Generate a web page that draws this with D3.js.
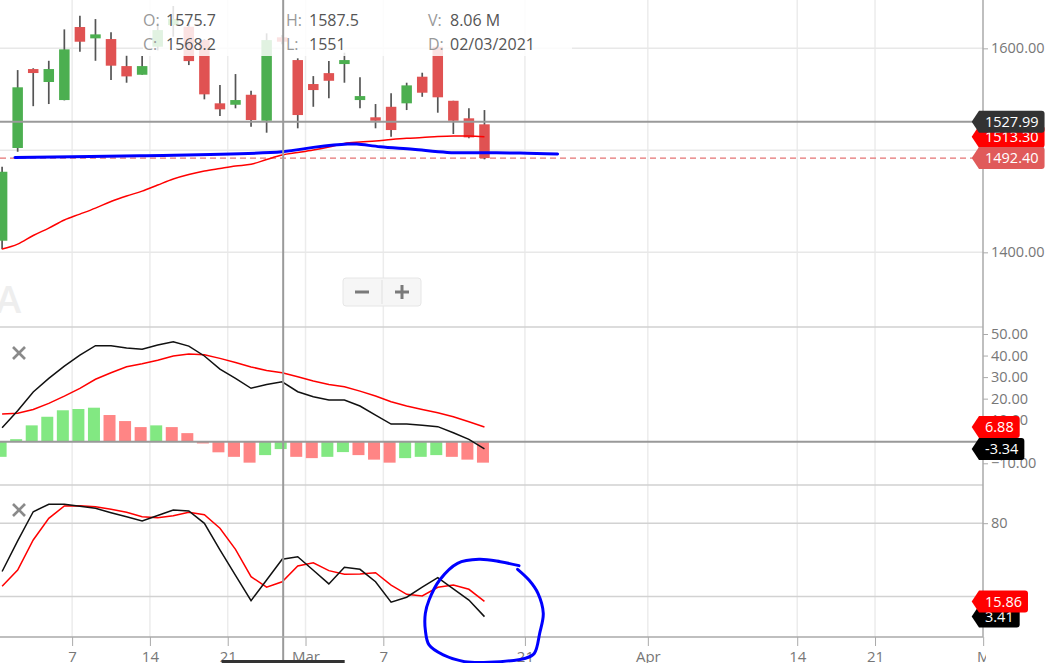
<!DOCTYPE html>
<html><head><meta charset="utf-8">
<script src="https://cdn.jsdelivr.net/npm/d3@7"></script>
<style>
body{margin:0;background:#fff;overflow:hidden}
svg{display:block;font-family:"Open Sans",sans-serif}
</style>
</head><body>
<svg id="c" width="1051" height="663"></svg>
<script>
// ---------- data ----------
const days = ["2021-02-01","2021-02-02","2021-02-03","2021-02-04","2021-02-05","2021-02-08","2021-02-09","2021-02-10","2021-02-11","2021-02-12",
  "2021-02-15","2021-02-16","2021-02-17","2021-02-18","2021-02-19","2021-02-22","2021-02-23","2021-02-24","2021-02-25","2021-02-26",
  "2021-03-01","2021-03-02","2021-03-03","2021-03-04","2021-03-05","2021-03-08","2021-03-09","2021-03-10","2021-03-12","2021-03-15",
  "2021-03-16","2021-03-17"];
const open  = [1411.4,1502.3,1579.7,1567.0,1549.3,1620.9,1609.8,1609.1,1582.6,1574.1,1601.6,1622.8,1621.2,1608.1,1546.1,1544.7,1554.5,1529.0,1610.8,1588.5,1565.0,1575.7,1584.6,1549.3,1532.4,1542.7,1546.1,1572.2,1601.6,1548.6,1531.4,1525.5];
const high  = [1484.0,1578.7,1580.5,1587.8,1618.6,1632.0,1628.7,1615.7,1592.7,1592.5,1625.0,1641.5,1624.0,1609.0,1564.0,1574.8,1558.4,1614.7,1613.0,1590.2,1572.8,1587.5,1595.7,1571.6,1545.4,1555.9,1566.3,1576.1,1603.0,1548.6,1541.2,1539.5];
const low   = [1403.0,1498.6,1543.3,1545.4,1549.0,1596.7,1587.8,1568.9,1566.3,1574.0,1598.0,1611.4,1583.6,1550.0,1533.6,1541.2,1523.1,1517.3,1604.0,1521.6,1542.7,1551.0,1566.3,1541.2,1521.6,1513.3,1539.5,1552.5,1536.9,1516.0,1511.8,1491.2];
const close = [1479.0,1561.8,1575.8,1579.7,1599.0,1606.5,1613.7,1583.0,1572.5,1582.6,1617.9,1628.7,1587.5,1554.9,1540.2,1549.3,1529.7,1608.1,1606.5,1534.6,1559.1,1568.2,1588.5,1553.2,1529.0,1519.9,1563.7,1556.5,1552.0,1529.0,1512.7,1492.4];
const sma   = [1403.2,1408.0,1416.5,1423.8,1431.7,1437.5,1443.4,1449.8,1455.2,1460.0,1466.0,1471.9,1476.3,1479.7,1482.2,1484.6,1486.3,1491.0,1495.4,1497.8,1500.3,1503.2,1506.7,1508.1,1509.1,1510.6,1511.8,1512.5,1513.5,1514.0,1514.0,1513.3];
// hand-drawn blue trend line: [candle index, price]
const trendPts = [[0.83,1493.1],[8.86,1494.7],[18,1498.6],[20,1502.9],[22.2,1506.2],[22.8,1506.2],[24.3,1503.5],[26.4,1501.0],[28.6,1498.0],[30.7,1497.6],[33.3,1497.4],[35.7,1496.4]];

const macdLine   = [6.5,14.4,23.1,29.4,35.1,40.2,44.6,44.6,43.5,42.9,44.9,46.4,44.4,39.8,33.7,29.4,24.8,26.6,27.8,23.2,20.9,19.4,19.4,16.6,12.4,8.2,8.2,7.7,7.0,4.2,1.1,-3.34];
const macdSignal = [12.9,13.2,15.0,17.8,21.2,24.8,29.0,32.0,34.8,36.2,37.8,39.8,40.7,40.4,38.7,36.8,34.7,33.1,32.0,30.2,28.2,26.6,25.5,23.5,21.2,18.6,16.6,15.0,13.5,11.6,9.3,6.88];
const macdHist   = [-7.0,1.2,7.6,11.6,14.6,15.2,15.8,12.4,9.6,6.8,7.6,6.8,4.0,-0.8,-4.9,-7.0,-9.7,-6.2,-3.4,-7.0,-7.6,-7.0,-4.8,-6.2,-8.3,-9.7,-7.6,-7.0,-6.2,-7.0,-8.3,-9.7];

const stochK = [40.4,65.5,89.4,95.5,95.5,93.9,92.2,88.6,85.2,81.8,86.3,90.8,90.0,79.9,58.1,37.3,16.5,33.4,50.4,52.5,41.4,30.2,43.9,42.2,32.0,15.2,19.3,27.5,35.3,26.1,17.0,3.41];
const stochD = [28.3,41.6,66.2,84.0,94.1,94.3,93.5,91.4,88.9,85.3,84.5,86.1,88.9,87.0,75.8,58.6,36.1,27.5,32.0,44.9,47.6,41.1,38.1,38.4,39.4,29.3,21.7,20.3,27.5,29.3,25.8,15.86];
// hand-drawn blue circle: [candle index, stoch value]
const circlePts = [[33.22,45.2],[32.02,48.4],[30.65,50.4],[29.27,47.1],[28.12,33.4],[27.44,17],[27.2,6.1],[27.2,-7.5],[27.44,-19.8],[28.35,-28],[29.73,-33.5],[32.02,-33.5],[33.64,-30.7],[34.21,-26.6],[34.55,-10.2],[34.78,6.1],[34.44,22.5],[33.86,33.4],[33.13,42.2]];

const xTickPos    = [4.5,9.5,14.5,19.5,24.5,33.6,41.5,51.1,56.1,63.05];
const xTickLabels = ["7","14","21","Mar","7","21","Apr","14","21","M"];
const priceTicks = [1400,1500,1600];
const macdTicks  = [-10,0,10,20,30,40,50];
const stochTicks = [20,80];

const infoLabels = ["O:","C:","H:","L:","V:","D:"];
const infoValues = ["1575.7","1568.2","1587.5","1551","8.06 M","02/03/2021"];
const crossIndex = 18, crossPrice = 1527.99;
const smaLast = 1513.30;

// ---------- layout ----------
const AX = 983;
const svg = d3.select('#c');
const x = d3.scaleLinear().domain([0, 63]).range([2.1, 2.1 + 63 * 15.56]);
const yP = d3.scaleLinear().domain([1326.8, 1647.4]).range([327, 0]);
const yM = d3.scaleLinear().domain([-20.07, 53.25]).range([485, 327]);
const yS = d3.scaleLinear().domain([-13.3, 111.3]).range([637, 485]);

const GREEN = '#4caf50', RED = '#e05252';

const defs = svg.append('defs');
[['clipMain',0,327],['clipMacd',327,158],['clipStoch',485,152]].forEach(([id,y0,h]) =>
  defs.append('clipPath').attr('id', id).append('rect').attr('x',0).attr('y',y0).attr('width',AX).attr('height',h));
defs.append('clipPath').attr('id','clipX').append('rect').attr('x',0).attr('y',630).attr('width',AX+3).attr('height',40);

// grid
const grid = svg.append('g');
grid.selectAll('line.v').data(xTickPos.slice(0,-1)).join('line')
  .attr('x1',d=>x(d)).attr('x2',d=>x(d)).attr('y1',0).attr('y2',637)
  .attr('stroke','#ececec').attr('stroke-width',1.5);
grid.selectAll('line.hp').data(priceTicks).join('line')
  .attr('x1',0).attr('x2',AX).attr('y1',d=>yP(d)).attr('y2',d=>yP(d))
  .attr('stroke','#e8e8e8').attr('stroke-width',1.5);
grid.selectAll('line.hs').data(stochTicks).join('line')
  .attr('x1',0).attr('x2',AX).attr('y1',d=>yS(d)).attr('y2',d=>yS(d))
  .attr('stroke','#d2d2d2').attr('stroke-width',1.5);
[327,485].forEach(yy => grid.append('line').attr('x1',0).attr('x2',AX).attr('y1',yy).attr('y2',yy)
  .attr('stroke','#d0d0d0').attr('stroke-width',1.5));

// watermark
svg.append('text').attr('x',-4).attr('y',313).attr('font-size',38).attr('font-weight',600)
  .attr('fill','#eeeeee').text('A');

// main panel
const main = svg.append('g').attr('clip-path','url(#clipMain)');
const lastClose = close[close.length-1];
main.append('line').attr('x1',0).attr('x2',AX).attr('y1',yP(lastClose)).attr('y2',yP(lastClose))
  .attr('stroke','#e57373').attr('stroke-width',1.2).attr('stroke-dasharray','6,4');
const idx = d3.range(open.length);
main.selectAll('line.wick').data(idx).join('line')
  .attr('x1',i=>x(i)).attr('x2',i=>x(i)).attr('y1',i=>yP(high[i])).attr('y2',i=>yP(low[i]))
  .attr('stroke','#555').attr('stroke-width',1.7);
main.selectAll('rect.body').data(idx).join('rect')
  .attr('x',i=>x(i)-5.25).attr('width',10.5)
  .attr('y',i=>yP(Math.max(open[i],close[i])))
  .attr('height',i=>Math.max(1.5, Math.abs(yP(open[i])-yP(close[i]))))
  .attr('fill',i=>close[i]>=open[i]?GREEN:RED);
main.append('path').datum(sma)
  .attr('d', d3.line().x((d,i)=>x(i)).y(d=>yP(d)).curve(d3.curveMonotoneX))
  .attr('fill','none').attr('stroke','#ff0000').attr('stroke-width',1.5);
main.append('path').datum(trendPts)
  .attr('d', d3.line().x(d=>x(d[0])).y(d=>yP(d[1])).curve(d3.curveCatmullRom))
  .attr('fill','none').attr('stroke','#0000ff').attr('stroke-width',3).attr('stroke-linecap','round');

// info overlay
svg.append('rect').attr('x',143).attr('y',0).attr('width',429).attr('height',56)
  .attr('fill','#fff').attr('opacity',0.83);
const infoX = [143,143,286,286,428,428], infoY = [25.5,50,25.5,50,25.5,50];
infoLabels.forEach((l,k) => {
  svg.append('text').attr('x',infoX[k]).attr('y',infoY[k]).attr('font-size',16).attr('fill','#999').text(l);
  svg.append('text').attr('x',infoX[k]+ (k<4?23:22)).attr('y',infoY[k]).attr('font-size',16).attr('fill','#555').text(infoValues[k]);
});

// zoom buttons
const zb = svg.append('g');
zb.append('rect').attr('x',343).attr('y',278).attr('width',78).attr('height',28).attr('rx',3)
  .attr('fill','#f6f6f6').attr('stroke','#e6e6e6');
zb.append('line').attr('x1',382).attr('x2',382).attr('y1',280).attr('y2',304).attr('stroke','#e0e0e0');
zb.append('line').attr('x1',355).attr('x2',369).attr('y1',292).attr('y2',292).attr('stroke','#7a7a7a').attr('stroke-width',3);
zb.append('line').attr('x1',395).attr('x2',409).attr('y1',292).attr('y2',292).attr('stroke','#7a7a7a').attr('stroke-width',3);
zb.append('line').attr('x1',402).attr('x2',402).attr('y1',285).attr('y2',299).attr('stroke','#7a7a7a').attr('stroke-width',3);

// MACD panel
const mg = svg.append('g').attr('clip-path','url(#clipMacd)');
mg.selectAll('rect').data(idx).join('rect')
  .attr('x',i=>x(i)-7.5).attr('width',12)
  .attr('y',i=>yM(Math.max(0,macdHist[i])))
  .attr('height',i=>Math.abs(yM(macdHist[i])-yM(0)))
  .attr('fill',i=>(i===0||macdHist[i]>=macdHist[i-1])?'#82e882':'#ff8585');
mg.append('line').attr('x1',0).attr('x2',AX).attr('y1',yM(0)).attr('y2',yM(0)).attr('stroke','#999').attr('stroke-width',2);
mg.append('path').datum(macdSignal).attr('d', d3.line().x((d,i)=>x(i)).y(d=>yM(d)))
  .attr('fill','none').attr('stroke','#ff0000').attr('stroke-width',1.5);
mg.append('path').datum(macdLine).attr('d', d3.line().x((d,i)=>x(i)).y(d=>yM(d)))
  .attr('fill','none').attr('stroke','#111').attr('stroke-width',1.5);

// Stoch panel
const sg = svg.append('g').attr('clip-path','url(#clipStoch)');
sg.append('path').datum(stochD).attr('d', d3.line().x((d,i)=>x(i)).y(d=>yS(d)))
  .attr('fill','none').attr('stroke','#ff0000').attr('stroke-width',1.5);
sg.append('path').datum(stochK).attr('d', d3.line().x((d,i)=>x(i)).y(d=>yS(d)))
  .attr('fill','none').attr('stroke','#111').attr('stroke-width',1.5);

// close icons
[[19,353],[19,510]].forEach(([cx,cy]) => {
  const g = svg.append('g').attr('stroke','#8a8a8a').attr('stroke-width',2.6);
  g.append('line').attr('x1',cx-6).attr('x2',cx+6).attr('y1',cy-6).attr('y2',cy+6);
  g.append('line').attr('x1',cx-6).attr('x2',cx+6).attr('y1',cy+6).attr('y2',cy-6);
});

// crosshair
svg.append('line').attr('x1',0).attr('x2',AX).attr('y1',yP(crossPrice)).attr('y2',yP(crossPrice))
  .attr('stroke','#9a9a9a').attr('stroke-width',2);
svg.append('line').attr('x1',x(crossIndex)+1).attr('x2',x(crossIndex)+1).attr('y1',0).attr('y2',663)
  .attr('stroke','#9a9a9a').attr('stroke-width',2);

// axes
function styleAxis(g, fs){
  g.select('.domain').remove();
  g.selectAll('.tick line').attr('stroke','#aaa');
  g.selectAll('.tick text').attr('fill','#777').attr('font-size',fs).attr('font-family','"Open Sans",sans-serif');
}
svg.append('line').attr('x1',AX).attr('x2',AX).attr('y1',0).attr('y2',637).attr('stroke','#aaa').attr('stroke-width',1.5);
svg.append('line').attr('x1',0).attr('x2',AX).attr('y1',637).attr('y2',637).attr('stroke','#aaa').attr('stroke-width',1.5);
styleAxis(svg.append('g').attr('transform',`translate(${AX},0)`)
  .call(d3.axisRight(yP).tickValues(priceTicks).tickFormat(d3.format('.2f')).tickSize(5).tickPadding(3)), 14.5);
styleAxis(svg.append('g').attr('transform',`translate(${AX},0)`)
  .call(d3.axisRight(yM).tickValues(macdTicks).tickFormat(d3.format('.2f')).tickSize(5).tickPadding(3)), 14.5);
styleAxis(svg.append('g').attr('transform',`translate(${AX},0)`)
  .call(d3.axisRight(yS).tickValues(stochTicks).tickFormat(d3.format('d')).tickSize(5).tickPadding(3)), 14.5);
styleAxis(svg.append('g').attr('clip-path','url(#clipX)').append('g').attr('transform','translate(0,637)')
  .call(d3.axisBottom(x).tickValues(xTickPos).tickFormat((d,i)=>xTickLabels[i]).tickSize(9).tickPadding(5)), 15);

// crosshair date tag (mostly below the visible area)
svg.append('rect').attr('x',x(crossIndex)+1-61.5).attr('y',660).attr('width',123).attr('height',10).attr('fill','#333');

// value tags
function tag(yy, txt, fill){
  const g = svg.append('g');
  const p = g.append('path').attr('fill',fill);
  const t = g.append('text').attr('x',985).attr('y',yy).attr('dy','0.35em')
    .attr('font-size',14.5).attr('fill','#fff').text(txt);
  const w = t.node().getComputedTextLength();
  const x0 = AX-11.3, x1 = AX-4, x2 = 985 + w + 6, h = 11, r = 3;
  p.attr('d', `M${x0},${yy} L${x1},${yy-h} L${x2-r},${yy-h} Q${x2},${yy-h} ${x2},${yy-h+r} L${x2},${yy+h-r} Q${x2},${yy+h} ${x2-r},${yy+h} L${x1},${yy+h} Z`);
}
tag(yP(smaLast), smaLast.toFixed(2), '#ff0000');
tag(yP(crossPrice), crossPrice.toFixed(2), '#333333');
tag(yP(lastClose), lastClose.toFixed(2), '#e05a5a');
tag(yM(macdSignal[macdSignal.length-1]), String(macdSignal[macdSignal.length-1]), '#ff0000');
tag(yM(macdLine[macdLine.length-1]), String(macdLine[macdLine.length-1]), '#000000');
tag(yS(stochK[stochK.length-1]), String(stochK[stochK.length-1]), '#000000');
tag(yS(stochD[stochD.length-1]), String(stochD[stochD.length-1]), '#ff0000');

// hand-drawn circle annotation
svg.append('path').datum(circlePts)
  .attr('d', d3.line().x(d=>x(d[0])).y(d=>yS(d[1])).curve(d3.curveCatmullRom))
  .attr('fill','none').attr('stroke','#0000ff').attr('stroke-width',3).attr('stroke-linecap','round').attr('stroke-linejoin','round');
</script>
</body></html>
